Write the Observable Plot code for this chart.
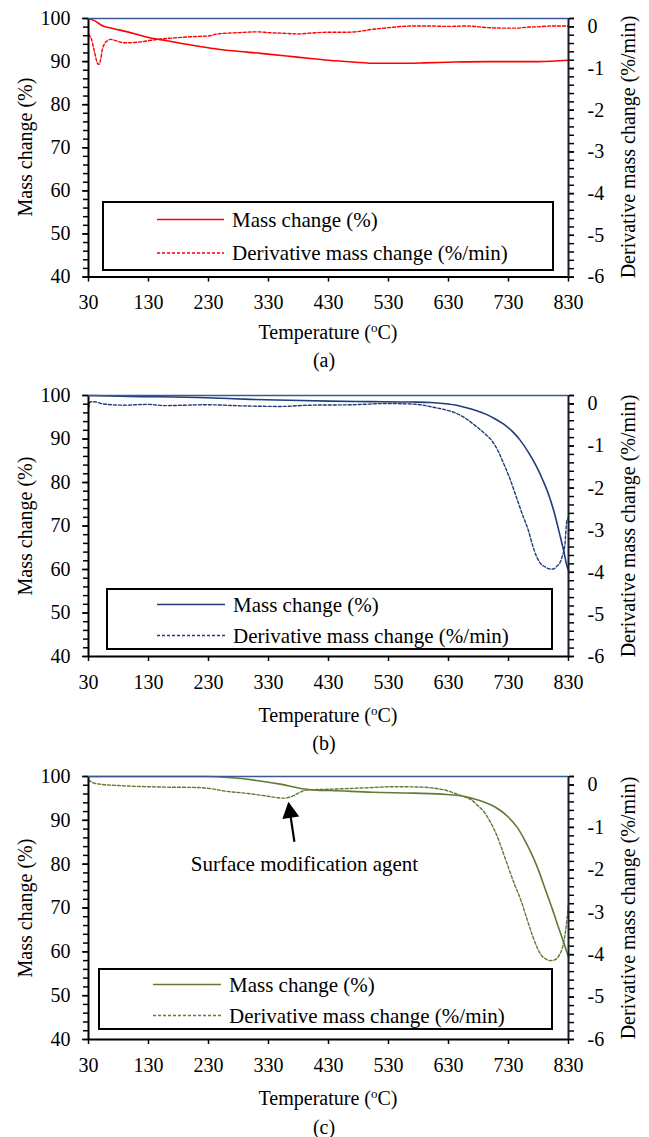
<!DOCTYPE html>
<html><head><meta charset="utf-8">
<script src="https://cdn.jsdelivr.net/npm/d3@7"></script>
<script src="https://cdn.jsdelivr.net/npm/@observablehq/plot@0.6"></script>
<style>
body{margin:0;background:#fff;}
#root{position:relative;width:649px;height:1137px;font-family:"Liberation Serif","Times New Roman",serif;color:#000;overflow:hidden;background:#fff}
#root svg{font-family:"Liberation Serif","Times New Roman",serif !important;font-size:20px !important;}
#root svg text{font-family:"Liberation Serif","Times New Roman",serif !important;}
.ttl{position:absolute;font-size:20px;white-space:nowrap;transform:translate(-50%,-50%);line-height:1}
.rot{transform:translate(-50%,-50%) rotate(-90deg)}
.legend{position:absolute;border:2px solid #000;background:#fff;box-sizing:border-box}
.legend svg{position:absolute;left:0;top:0;overflow:visible}
.ltxt{position:absolute;font-size:21px;white-space:nowrap;line-height:1;transform:translateY(-50%)}
sup{font-size:13px;vertical-align:0;position:relative;top:-7px}
</style></head><body><div id="root"></div>
<script>
// ---- tick labels ----
const xTicks = [30, 130, 230, 330, 430, 530, 630, 730, 830];
const massTicks = [40, 50, 60, 70, 80, 90, 100];
const derivTicks = [-6, -5, -4, -3, -2, -1, 0];

// ---- (a) ----
const massA = [[30,100],[40,99.5],[53,98.3],[70,97.7],[95,96.9],[130,95.6],[150,95.1],[190,94.1],[234,93.1],[270,92.5],[317,91.9],[360,91.3],[400,90.7],[430,90.3],[470,89.9],[510,89.6],[550,89.6],[590,89.7],[640,89.9],[700,90.0],[780,90.0],[830,90.3]];
const derivA = [[30,-0.18],[35,-0.3],[40,-0.6],[44,-0.84],[47,-0.9],[50,-0.8],[53,-0.55],[57,-0.4],[62,-0.33],[67,-0.3],[75,-0.33],[89,-0.38],[100,-0.38],[117,-0.36],[145,-0.3],[178,-0.26],[212,-0.23],[230,-0.22],[245,-0.17],[278,-0.14],[312,-0.12],[331,-0.14],[350,-0.15],[379,-0.17],[400,-0.15],[427,-0.13],[460,-0.13],[475,-0.12],[503,-0.06],[530,-0.02],[544,0],[572,0.02],[600,0.02],[627,0.01],[661,0.02],[680,0.0],[696,-0.02],[720,-0.03],[744,-0.03],[760,-0.01],[778,0.0],[800,0.02],[830,0.02]];

// ---- (b) ----
const massB = [[30,100],[100,99.8],[226,99.5],[300,99.1],[364,98.9],[430,98.7],[501,98.6],[570,98.5],[600,98.4],[625,98.1],[645,97.7],[660,97.2],[677,96.5],[694,95.6],[708,94.6],[722,93.4],[736,91.8],[749,89.8],[763,87.0],[777,83.6],[788,80.3],[798,76.8],[807,72.7],[815,68.3],[822,64.3],[827,61.0],[830,59.8]];
const derivB = [[30,-0.1],[33,0.05],[40,0.05],[54,0],[88,-0.03],[130,-0.01],[157,-0.04],[226,-0.02],[295,-0.05],[350,-0.06],[398,-0.03],[467,-0.02],[529,0.01],[577,-0.01],[605,-0.08],[625,-0.14],[639,-0.2],[657,-0.33],[674,-0.51],[690,-0.7],[702,-0.87],[712,-1.1],[722,-1.42],[733,-1.8],[743,-2.21],[753,-2.62],[763,-3.0],[770,-3.35],[777,-3.63],[784,-3.8],[791,-3.87],[798,-3.92],[805,-3.92],[810,-3.86],[815,-3.79],[820,-3.6],[824,-3.35],[827,-2.8],[830,-2.7]];

// ---- (c) ----
const massC = [[30,100],[150,100],[228,100],[269,99.7],[310,99.1],[352,98.2],[386,97.2],[410,96.9],[434,96.8],[503,96.4],[572,96.2],[627,95.9],[650,95.6],[661,95.3],[675,94.8],[689,94.2],[703,93.4],[716,92.3],[730,90.7],[744,88.5],[757,85.5],[771,81.6],[782,77.9],[792,74.0],[803,69.8],[813,65.7],[822,62.1],[830,58.8]];
const derivC = [[30,0.12],[38,0.05],[49,0.02],[90,-0.02],[159,-0.05],[214,-0.06],[235,-0.09],[255,-0.14],[296,-0.2],[331,-0.27],[345,-0.3],[355,-0.31],[365,-0.29],[372,-0.25],[383,-0.17],[393,-0.12],[434,-0.1],[503,-0.06],[537,-0.04],[586,-0.05],[613,-0.09],[627,-0.13],[641,-0.2],[655,-0.27],[668,-0.35],[680,-0.5],[689,-0.63],[700,-0.88],[710,-1.17],[720,-1.55],[730,-1.95],[740,-2.34],[751,-2.73],[761,-3.17],[771,-3.59],[778,-3.84],[785,-4.02],[792,-4.1],[799,-4.14],[805,-4.13],[810,-4.1],[815,-4.0],[820,-3.83],[825,-3.45],[830,-2.81]];

// annotation (data units)
const annText = "Surface modification agent";
const annLabelAt = [390, 80.0];
const annArrowFrom = [374, 85.0];
const annArrowTo = [364, 94.1];

// ---- helpers ----
const D_MIN = -6, D_MAX = 0.2, M_MIN = 40, M_MAX = 100;
const toMass = d => M_MIN + (d - D_MIN) * (M_MAX - M_MIN) / (D_MAX - D_MIN);
const fromMass = m => D_MIN + (m - M_MIN) * (D_MAX - D_MIN) / (M_MAX - M_MIN);
const fmtD = v => { const n = Math.round(fromMass(v)); return n < 0 ? "-" + (-n) : String(n); };
const minorLeft = d3.range(40, 100.001, 2);
const minorRight = d3.range(0, 32).map(i => -6 + i * 0.2);

const root = document.getElementById("root");
const FONT = "'Liberation Serif','Times New Roman',serif";

const panels = [
  {mass: massA, deriv: derivA, color: "#ff0000", top: 17.5, bottom: 276, tempY: 332, capY: 360, cap: "(a)",
   lg: {x0: 102, x1: 554, y0: 201, y1: 271, lx0: 157, lx1: 224, ly1: 219.5, ly2: 253, tx: 232}},
  {mass: massB, deriv: derivB, color: "#1f3b7a", top: 395, bottom: 656, tempY: 715, capY: 743, cap: "(b)",
   lg: {x0: 106, x1: 553, y0: 588, y1: 650, lx0: 157, lx1: 225, ly1: 604.5, ly2: 635.5, tx: 233}},
  {mass: massC, deriv: derivC, color: "#617a36", top: 776, bottom: 1039, tempY: 1098, capY: 1127, cap: "(c)",
   lg: {x0: 98, x1: 553, y0: 968, y1: 1030, lx0: 153, lx1: 221, ly1: 984.5, ly2: 1015.5, tx: 229}, ann: true}
];

panels.forEach(p => {
  const mt = 10, mb = 60;
  const plotH = p.bottom - p.top;
  const H = mt + plotH + mb;
  const marks = [
    Plot.axisX({ticks: xTicks, tickSize: 5, tickPadding: 13, strokeWidth: 1.5, label: null, fontSize: 20, tickFormat: d => String(d)}),
    Plot.axisY({ticks: minorLeft, anchor: "left", tickSize: 5, strokeWidth: 1.5, label: null, tickFormat: () => ""}),
    Plot.axisY({ticks: massTicks, anchor: "left", tickSize: 6, tickPadding: 12, strokeWidth: 1.5, label: null, fontSize: 20, tickFormat: d => String(d)}),
    Plot.axisY({ticks: minorRight.map(toMass).concat([100]), anchor: "right", tickSize: 5, strokeWidth: 1.5, label: null, tickFormat: () => ""}),
    Plot.axisY({ticks: derivTicks.map(toMass), anchor: "right", tickSize: 5, tickPadding: 14, strokeWidth: 1.5, label: null, fontSize: 20, tickFormat: fmtD}),
    Plot.line(p.deriv, {x: d => d[0], y: d => toMass(d[1]), stroke: p.color, strokeWidth: 1.4, strokeDasharray: "3,2", curve: "monotone-x"}),
    Plot.line(p.mass, {x: d => d[0], y: d => d[1], stroke: p.color, strokeWidth: 1.6, curve: "monotone-x"}),
    Plot.ruleX([30], {stroke: "#000", strokeWidth: 2}),
    Plot.ruleX([830], {stroke: "#1a1a2a", strokeWidth: 2}),
    Plot.ruleY([40], {stroke: "#000", strokeWidth: 2}),
    Plot.ruleY([100], {stroke: "#3a5a95", strokeWidth: 1.6})
  ];
  if (p.ann) {
    marks.push(Plot.text([annLabelAt], {x: d => d[0], y: d => d[1], text: () => annText, fontSize: 21, fontFamily: FONT, fill: "#000", textAnchor: "middle", lineAnchor: "middle"}));
  }
  const plot = Plot.plot({
    width: 649, height: H,
    marginLeft: 88, marginRight: 81, marginTop: mt, marginBottom: mb,
    x: {domain: [30, 830]},
    y: {domain: [M_MIN, M_MAX]},
    style: `font-family: ${FONT}; font-size: 20px; background: transparent; overflow: visible; color: #000;`,
    marks
  });
  plot.style.position = "absolute";
  plot.style.left = "0px";
  plot.style.top = (p.top - mt) + "px";
  root.appendChild(plot);

  if (p.ann) {
    const xs = plot.scale("x"), ys = plot.scale("y");
    const x1 = xs.apply(annArrowFrom[0]), y1 = ys.apply(annArrowFrom[1]);
    const x2 = xs.apply(annArrowTo[0]), y2 = ys.apply(annArrowTo[1]);
    const dx = x2 - x1, dy = y2 - y1, len = Math.hypot(dx, dy);
    const ux = dx / len, uy = dy / len, nx = -uy, ny = ux;
    const hl = 16, hw = 8.5;
    const bx = x2 - ux * hl, by = y2 - uy * hl;
    const svg = d3.select(plot);
    svg.append("line").attr("x1", x1).attr("y1", y1).attr("x2", bx + ux * 2).attr("y2", by + uy * 2)
      .attr("stroke", "#000").attr("stroke-width", 2.2);
    svg.append("path").attr("d", `M${x2},${y2}L${bx + nx * hw},${by + ny * hw}L${bx - nx * hw},${by - ny * hw}Z`).attr("fill", "#000");
  }

  // axis titles
  const mid = (p.top + p.bottom) / 2;
  const lt = document.createElement("div");
  lt.className = "ttl rot"; lt.style.left = "25px"; lt.style.top = mid + "px"; lt.textContent = "Mass change (%)";
  root.appendChild(lt);
  const rt = document.createElement("div");
  rt.className = "ttl rot"; rt.style.left = "628px"; rt.style.top = mid + "px"; rt.textContent = "Derivative mass change (%/min)";
  root.appendChild(rt);
  const xt = document.createElement("div");
  xt.className = "ttl"; xt.style.left = "328px"; xt.style.top = p.tempY + "px"; xt.innerHTML = "Temperature (<sup>o</sup>C)";
  root.appendChild(xt);
  const cp = document.createElement("div");
  cp.className = "ttl"; cp.style.left = "324px"; cp.style.top = p.capY + "px"; cp.textContent = p.cap;
  root.appendChild(cp);

  // legend
  const L = p.lg;
  const lg = document.createElement("div");
  lg.className = "legend";
  lg.style.left = L.x0 + "px"; lg.style.top = L.y0 + "px";
  lg.style.width = (L.x1 - L.x0) + "px"; lg.style.height = (L.y1 - L.y0) + "px";
  const ox = L.x0 + 2, oy = L.y0 + 2;
  lg.innerHTML = `<svg width="${L.x1 - L.x0}" height="${L.y1 - L.y0}">
    <line x1="${L.lx0 - ox}" x2="${L.lx1 - ox}" y1="${L.ly1 - oy}" y2="${L.ly1 - oy}" stroke="${p.color}" stroke-width="1.6"/>
    <line x1="${L.lx0 - ox}" x2="${L.lx1 - ox}" y1="${L.ly2 - oy}" y2="${L.ly2 - oy}" stroke="${p.color}" stroke-width="1.4" stroke-dasharray="3,2"/>
  </svg>
  <div class="ltxt" style="left:${L.tx - ox}px;top:${L.ly1 - oy}px">Mass change (%)</div>
  <div class="ltxt" style="left:${L.tx - ox}px;top:${L.ly2 - oy}px">Derivative mass change (%/min)</div>`;
  root.appendChild(lg);
});
</script>
</body></html>
